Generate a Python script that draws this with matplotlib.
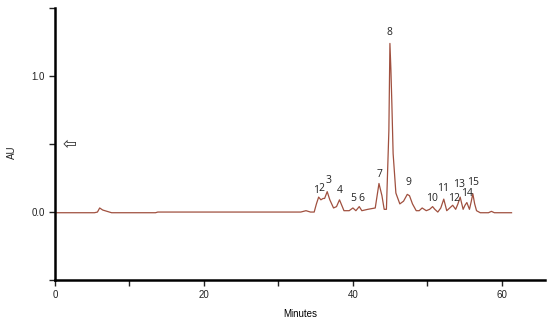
import matplotlib
matplotlib.use("Agg")
import matplotlib.pyplot as plt

# Chromatogram trace (minutes, AU)
time_min = [0.0, 5.3, 5.7, 6.0, 6.4, 7.0, 7.6, 13.5, 13.8, 33.0, 33.7, 34.3,
            34.8, 35.1, 35.4, 35.7, 36.0, 36.2, 36.55, 36.9, 37.4, 37.8, 38.2,
            38.5, 38.8, 39.5, 40.0, 40.4, 40.85, 41.2, 42.0, 43.0, 43.5, 43.9,
            44.2, 44.5, 44.83, 44.97, 45.1, 45.23, 45.4, 45.77, 45.9, 46.3,
            46.8, 47.3, 47.6, 48.0, 48.5, 48.9, 49.3, 49.85, 50.3, 50.7, 51.0,
            51.4, 51.8, 52.2, 52.6, 53.0, 53.4, 53.8, 54.1, 54.4, 54.8, 55.05,
            55.3, 55.65, 55.9, 56.1, 56.35, 56.6, 57.1, 58.2, 58.6, 59.0, 61.3]
absorbance = [-0.005, -0.005, 0.0, 0.03, 0.015, 0.005, -0.005, -0.005, 0.0, 0.0,
              0.01, 0.0, 0.0, 0.06, 0.11, 0.09, 0.10, 0.10, 0.15, 0.09, 0.03,
              0.04, 0.09, 0.05, 0.01, 0.01, 0.03, 0.01, 0.04, 0.01, 0.02, 0.03,
              0.21, 0.12, 0.02, 0.02, 0.6, 1.24, 1.05, 0.8, 0.43, 0.14, 0.12,
              0.06, 0.08, 0.13, 0.12, 0.06, 0.01, 0.01, 0.03, 0.01, 0.02, 0.04,
              0.02, 0.0, 0.03, 0.095, 0.01, 0.03, 0.05, 0.02, 0.06, 0.11, 0.02,
              0.05, 0.07, 0.02, 0.08, 0.135, 0.06, 0.01, -0.005, -0.005, 0.005,
              -0.005, -0.005]

# Peak labels (number, time, label height in AU)
peak_ids = ["1", "2", "3", "4", "5", "6", "7", "8", "9", "10", "11", "12", "13", "14", "15"]
peak_t = [35.0, 35.8, 36.7, 38.2, 40.05, 41.1, 43.6, 44.9, 47.5, 50.6, 52.1, 53.55, 54.3, 55.3, 56.15]
peak_y = [0.157, 0.175, 0.23, 0.157, 0.10, 0.10, 0.277, 1.32, 0.215, 0.098, 0.174, 0.10, 0.20, 0.14, 0.215]

x_ticks = [0, 10, 20, 30, 40, 50, 60]
x_labels = ["0", "", "20", "", "40", "", "60"]
y_ticks = [-0.5, 0.0, 0.5, 1.0, 1.5]
y_labels = ["", "0.0", "", "1.0", ""]

fig = plt.figure(figsize=(5.5, 3.23), dpi=100)
ax = fig.add_axes([0.1, 0.133, 0.891, 0.842])
ax.plot(time_min, absorbance, color="#a0503f", lw=0.9)

for lab, t, y in zip(peak_ids, peak_t, peak_y):
    ax.text(t, y, lab, ha="center", va="center", fontsize=7.5, color="#222222",
            family="Open Sans")

ax.text(2.0, 0.5, "⇦", ha="center", va="center", fontsize=12, color="#333333",
        family="DejaVu Sans")

ax.set_xlim(0, 65.8)
ax.set_ylim(-0.5, 1.5)
ax.set_xticks(x_ticks)
ax.set_xticklabels(x_labels, fontsize=7, family="Liberation Sans")
ax.set_yticks(y_ticks)
ax.set_yticklabels(y_labels, fontsize=7, family="Liberation Sans")
ax.tick_params(axis="both", direction="out", length=4, width=1, colors="#222222")
for s in ["top", "right"]:
    ax.spines[s].set_visible(False)
for s in ["left", "bottom"]:
    ax.spines[s].set_linewidth(1.8)
    ax.spines[s].set_color("black")

ax.set_xlabel("Minutes", fontsize=7, family="Liberation Sans", labelpad=6)
fig.text(12 / 550, 1 - 152 / 323, "AU", rotation=90, ha="center", va="center",
         fontsize=7, family="Liberation Sans", color="#222222")

fig.savefig("out.png", dpi=100)
